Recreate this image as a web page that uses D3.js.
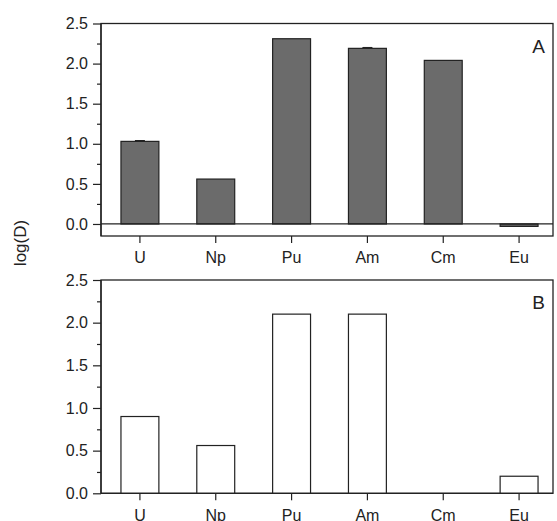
<!DOCTYPE html>
<html>
<head>
<meta charset="utf-8">
<script src="https://cdn.jsdelivr.net/npm/d3@7"></script>
<style>
  body { margin: 0; background: #fff; }
  text { font-family: "Liberation Sans", Arial, sans-serif; fill: #222; }
</style>
</head>
<body>
<div id="chart"></div>
<script>
const elements = ['U', 'Np', 'Pu', 'Am', 'Cm', 'Eu'];
const valuesA = [1.03, 0.56, 2.31, 2.19, 2.04, -0.03];
const errorsA = [0.01, 0, 0, 0.01, 0, 0];
const valuesB = [0.90, 0.56, 2.10, 2.10, 0, 0.20];
const yTicks = [0, 0.5, 1.0, 1.5, 2.0, 2.5];
const yMinor = [0.25, 0.75, 1.25, 1.75, 2.25];

const W = 557, H = 521;
const left = 101, right = 553;

const svg = d3.select('#chart').append('svg')
  .attr('width', W)
  .attr('height', H);

const x = d3.scaleBand()
  .domain(elements)
  .range([102, 557])
  .paddingInner(0.5)
  .paddingOuter(0.25);

function panel(opts) {
  const y = d3.scaleLinear().domain(opts.domain).range([opts.bottom, opts.top]);
  const g = svg.append('g');

  // frame
  g.append('rect')
    .attr('x', left).attr('y', opts.top)
    .attr('width', right - left).attr('height', opts.bottom - opts.top)
    .attr('fill', 'none').attr('stroke', '#222').attr('stroke-width', 1.3);

  // bars
  g.selectAll('rect.bar')
    .data(opts.values.map((v, i) => ({ k: elements[i], v: v })))
    .join('rect')
    .attr('class', 'bar')
    .attr('x', d => x(d.k))
    .attr('width', x.bandwidth())
    .attr('y', d => y(Math.max(0, d.v)))
    .attr('height', d => Math.abs(y(d.v) - y(0)))
    .attr('fill', opts.fill)
    .attr('stroke', '#222')
    .attr('stroke-width', 1.2);

  // error bars (tiny caps)
  if (opts.errors) {
    const eb = opts.values.map((v, i) => ({ k: elements[i], v: v, e: opts.errors[i] })).filter(d => d.e > 0);
    g.selectAll('line.err')
      .data(eb)
      .join('line')
      .attr('class', 'err')
      .attr('x1', d => x(d.k) + x.bandwidth() / 2 - 5)
      .attr('x2', d => x(d.k) + x.bandwidth() / 2 + 5)
      .attr('y1', d => y(d.v + d.e))
      .attr('y2', d => y(d.v + d.e))
      .attr('stroke', '#222').attr('stroke-width', 1.2);
  }

  // zero line
  g.append('line')
    .attr('x1', left).attr('x2', right)
    .attr('y1', y(0)).attr('y2', y(0))
    .attr('stroke', '#222').attr('stroke-width', 1.3);

  // y axis
  const ya = g.append('g')
    .attr('transform', `translate(${left},0)`)
    .call(d3.axisLeft(y).tickValues(yTicks).tickSize(8).tickPadding(5).tickFormat(d3.format('.1f')));
  ya.select('.domain').attr('stroke', '#222').attr('stroke-width', 1.3)
    .attr('d', `M0,${opts.top}V${opts.bottom}`);
  ya.selectAll('.tick line').attr('stroke', '#222').attr('stroke-width', 1.2);
  ya.selectAll('.tick text').attr('font-size', 16).attr('fill', '#222');

  g.append('g')
    .attr('transform', `translate(${left},0)`)
    .call(d3.axisLeft(y).tickValues(yMinor).tickSize(4).tickFormat(''))
    .call(a => a.select('.domain').remove())
    .selectAll('.tick line').attr('stroke', '#222').attr('stroke-width', 1.2);

  // x axis
  const xa = g.append('g')
    .attr('transform', `translate(0,${opts.xAxisY})`)
    .call(d3.axisBottom(x).tickSize(7).tickPadding(9));
  xa.select('.domain').remove();
  xa.selectAll('.tick line').attr('stroke', '#222').attr('stroke-width', 1.2);
  xa.selectAll('.tick text').attr('font-size', 16).attr('fill', '#222');

  // panel letter
  g.append('text')
    .attr('x', right - 8).attr('y', opts.top + 29)
    .attr('text-anchor', 'end')
    .attr('font-size', 19)
    .text(opts.letter);
}

panel({ domain: [-0.15, 2.5], top: 23.5, bottom: 236, xAxisY: 236,
  values: valuesA, errors: errorsA, fill: '#6b6b6b', letter: 'A' });
panel({ domain: [0, 2.5], top: 280, bottom: 493.3, xAxisY: 493.3,
  values: valuesB, fill: '#fff', letter: 'B' });

svg.append('text')
  .attr('transform', 'translate(26,243) rotate(-90)')
  .attr('text-anchor', 'middle')
  .attr('font-size', 17)
  .text('log(D)');
</script>
</body>
</html>
